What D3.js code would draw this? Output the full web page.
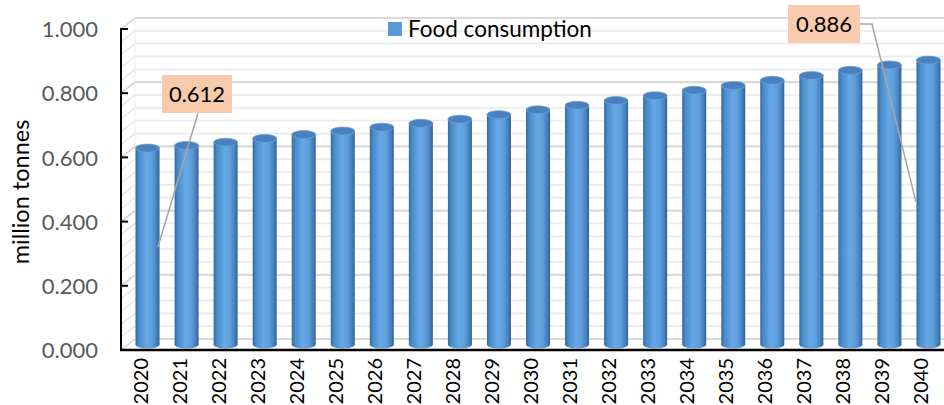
<!DOCTYPE html>
<html>
<head>
<meta charset="utf-8">
<script src="https://cdn.jsdelivr.net/npm/d3@7"></script>
<style>
  body { margin: 0; background: #fff; }
  svg { display: block; font-family: Lato, "Open Sans", sans-serif; }
</style>
</head>
<body>
<div class="main_content"></div>
<script>
// data
const years = ['2020', '2021', '2022', '2023', '2024', '2025', '2026', '2027', '2028', '2029', '2030',
    '2031', '2032', '2033', '2034', '2035', '2036', '2037', '2038', '2039', '2040'];
const foodConsumption = [0.612, 0.620, 0.630, 0.642, 0.654, 0.665, 0.677, 0.689, 0.702, 0.716, 0.731,
    0.745, 0.760, 0.775, 0.792, 0.807, 0.823, 0.838, 0.854, 0.871, 0.886];
const yTicks = [0, 0.2, 0.4, 0.6, 0.8, 1.0];
const minorTicks = d3.range(0, 26).map(i => i * 0.04);
const callouts = [
    {index: 0, label: '0.612'},
    {index: 20, label: '0.886'}
];
const seriesName = 'Food consumption';

const width = 944, height = 405;
const plot = {left: 121, right: 941, bottom: 350, top: 29};
const depth = {dx: 14, dy: -11};

const svg = d3.select('.main_content').append('svg')
    .attr('width', width)
    .attr('height', height);

const x = d3.scaleBand().domain(years).range([plot.left, plot.right]).paddingInner(0).paddingOuter(0);
const y = d3.scaleLinear().domain([0, 1]).range([plot.bottom, plot.top]);

// gradient for cylinders
const defs = svg.append('defs');
const grad = defs.append('linearGradient').attr('id', 'cyl').attr('x1', 0).attr('x2', 1).attr('y1', 0).attr('y2', 0);
[['0%', '#34689e'], ['12%', '#4788c8'], ['45%', '#66a8e6'], ['70%', '#5d9ddb'], ['90%', '#447db8'], ['100%', '#305f90']]
    .forEach(s => grad.append('stop').attr('offset', s[0]).attr('stop-color', s[1]));

// back wall gridlines
const grid = svg.append('g');
grid.selectAll('line.minor')
    .data(minorTicks)
    .join('line')
    .attr('x1', plot.left + depth.dx)
    .attr('x2', width)
    .attr('y1', d => y(d) + depth.dy)
    .attr('y2', d => y(d) + depth.dy)
    .style('stroke', (d, i) => i % 5 === 0 ? '#d9d9d9' : '#ececec')
    .style('stroke-width', (d, i) => i % 5 === 0 ? 2.2 : 1.8);

// side wall diagonals
grid.selectAll('line.side')
    .data(minorTicks)
    .join('line')
    .attr('x1', plot.left)
    .attr('x2', plot.left + depth.dx)
    .attr('y1', d => y(d))
    .attr('y2', d => y(d) + depth.dy)
    .style('stroke', (d, i) => i % 5 === 0 ? '#d0d0d0' : '#e6e6e6')
    .style('stroke-width', 1.5);

grid.append('line')
    .attr('x1', plot.left + depth.dx).attr('x2', plot.left + depth.dx)
    .attr('y1', y(1) + depth.dy).attr('y2', y(0) + depth.dy)
    .style('stroke', '#ececec').style('stroke-width', 1);

// cylinders
const bw = 24, ry = 4;
const bars = svg.append('g').selectAll('g')
    .data(years.map((yr, i) => ({year: yr, value: foodConsumption[i]})))
    .join('g')
    .attr('transform', d => `translate(${x(d.year) + x.bandwidth() / 2 + depth.dx / 2},${depth.dy / 2})`);

bars.append('ellipse')
    .attr('cx', 0).attr('cy', y(0)).attr('rx', bw / 2).attr('ry', ry)
    .style('fill', 'url(#cyl)');
bars.append('rect')
    .attr('x', -bw / 2).attr('width', bw)
    .attr('y', d => y(d.value))
    .attr('height', d => y(0) - y(d.value))
    .style('fill', 'url(#cyl)');
bars.append('ellipse')
    .attr('cx', 0).attr('cy', d => y(d.value)).attr('rx', bw / 2).attr('ry', ry)
    .style('fill', '#4a80bd')
    .style('stroke', '#6aa4dc')
    .style('stroke-width', 0.8);

// axes
svg.append('line')
    .attr('x1', plot.left).attr('x2', plot.left).attr('y1', y(1) - 1).attr('y2', plot.bottom + 1)
    .style('stroke', '#000').style('stroke-width', 2);
svg.append('line')
    .attr('x1', plot.left - 1).attr('x2', width).attr('y1', plot.bottom).attr('y2', plot.bottom)
    .style('stroke', '#000').style('stroke-width', 2.5);
svg.selectAll('line.ytick')
    .data(yTicks)
    .join('line')
    .attr('x1', plot.left).attr('x2', plot.left + 7)
    .attr('y1', d => y(d)).attr('y2', d => y(d))
    .style('stroke', '#000').style('stroke-width', 2);

const yAxis = svg.append('g')
    .attr('transform', `translate(${plot.left - 20},0)`)
    .call(d3.axisLeft(y).tickValues(yTicks).tickFormat(d3.format('.3f')).tickSize(0));
yAxis.select('.domain').remove();
yAxis.selectAll('text')
    .attr('dy', '0.35em')
    .style('font-size', '22px')
    .style('fill', '#595959')
    .style('font-family', 'Lato, sans-serif');

const xAxis = svg.append('g')
    .attr('transform', `translate(0,${plot.bottom + 8})`)
    .call(d3.axisBottom(x).tickSize(0));
xAxis.select('.domain').remove();
xAxis.selectAll('text')
    .attr('transform', 'rotate(-90)')
    .attr('text-anchor', 'end')
    .attr('x', 0).attr('y', 0)
    .attr('dy', '0.35em')
    .style('font-size', '20px')
    .style('fill', '#000')
    .style('font-family', 'Lato, sans-serif');

// axis title
svg.append('text')
    .attr('transform', 'translate(29,192) rotate(-90)')
    .attr('text-anchor', 'middle')
    .style('font-size', '23.5px')
    .text('million tonnes');

// legend
const legend = svg.append('g').attr('transform', 'translate(388,22)');
legend.append('rect').attr('width', 14).attr('height', 14).style('fill', '#5b9bd5');
legend.append('text').attr('x', 20).attr('y', 15).style('font-size', '22.5px').text(seriesName);

// callouts
const boxes = [
    {x: 162, y: 75, w: 70, h: 38, line: [[198, 113], [158, 247]]},
    {x: 788, y: 5, w: 72, h: 38, line: [[860, 24], [872, 24], [916, 202]]}
];
callouts.forEach((c, i) => {
    const b = boxes[i];
    svg.append('path')
        .attr('d', d3.line()(b.line))
        .style('fill', 'none').style('stroke', '#a6a6a6').style('stroke-width', 1.5);
    svg.append('rect')
        .attr('x', b.x).attr('y', b.y).attr('width', b.w).attr('height', b.h)
        .style('fill', '#f8cbad');
    svg.append('text')
        .attr('x', b.x + b.w / 2).attr('y', b.y + b.h / 2)
        .attr('dy', '0.35em')
        .attr('text-anchor', 'middle')
        .style('font-size', '22px')
        .text(c.label);
});
</script>
</body>
</html>
